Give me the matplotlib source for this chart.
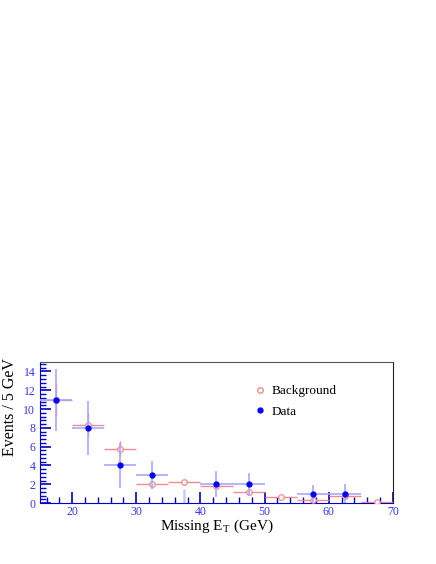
import matplotlib
matplotlib.use("Agg")
import matplotlib.pyplot as plt
from matplotlib.ticker import MultipleLocator
from matplotlib.lines import Line2D

# bins (centres) and values
centres = [17.5, 22.5, 27.5, 32.5, 37.5, 42.5, 47.5, 52.5, 57.5, 62.5, 67.5]
bkg = [11.0, 8.3, 5.8, 2.0, 2.2, 1.8, 1.2, 0.6, 0.3, 0.8, 0.1]
bkg_err = [1.7, 1.3, 0.8, 0.4, 0.2, 0.3, 0.3, 0.2, 0.2, 0.3, 0.1]
data = [11, 8, 4, 3, 0, 2, 2, 0, 1, 1, 0]
data_err = [3.3, 2.9, 2.4, 1.5, 1.5, 1.4, 1.2, 0, 0.9, 1.0, 0]
half_width = 2.5

bkg_col = '#f08080'
data_col = '#0000ff'
data_err_col = '#a8a8ff'
tick_col = '#0000cc'
lab_col = '#3333ff'

plt.rcParams['font.family'] = ['Liberation Serif', 'DejaVu Serif']
plt.rcParams['mathtext.fontset'] = 'stix'

fig = plt.figure(figsize=(4.36, 5.64), dpi=100)
ax = fig.add_axes([0.092, 0.108, 0.809, 0.25])

# background
ax.errorbar(centres, bkg, xerr=half_width, yerr=bkg_err, fmt='o', mfc='white',
            mec=bkg_col, ms=4, mew=0.9, ecolor=bkg_col, elinewidth=1.0,
            capsize=0, zorder=3, alpha=0.9)

# data (empty bins: error bar only)
dx = [c for c, v in zip(centres, data) if v > 0]
dy = [v for v in data if v > 0]
de = [e for v, e in zip(data, data_err) if v > 0]
ax.errorbar(dx, dy, xerr=half_width, yerr=de, fmt='o', color=data_col, ms=3.5,
            ecolor=data_err_col, elinewidth=1.2, capsize=0, zorder=4)
for c, v, e in zip(centres, data, data_err):
    if v == 0 and e > 0:
        ax.vlines(c, 0, e, color=data_err_col, lw=1.8, alpha=0.6, zorder=2)

ax.set_xlim(15, 70)
ax.set_ylim(0, 15)
ax.xaxis.set_major_locator(MultipleLocator(10))
ax.xaxis.set_minor_locator(MultipleLocator(2))
ax.yaxis.set_major_locator(MultipleLocator(2))
ax.yaxis.set_minor_locator(MultipleLocator(0.4))
ax.tick_params(which='both', direction='in', colors=tick_col, labelcolor=lab_col,
               labelsize=8.5, top=False, right=False)
ax.tick_params(axis='x', pad=2)
ax.tick_params(which='major', length=8, width=1.2)
ax.tick_params(which='minor', length=4, width=1.0)
ax.spines['left'].set_color(tick_col)
ax.spines['bottom'].set_color(tick_col)
ax.spines['top'].set_color('#555555')
ax.spines['right'].set_color('#222222')

ax.set_xlabel(r'Missing E$_\mathregular{T}$ (GeV)', fontsize=11)
ax.set_ylabel('Events / 5 GeV', fontsize=11.5)
ax.xaxis.set_label_coords(0.5, -0.105)
ax.yaxis.set_label_coords(-0.062, 0.68)

handles = [Line2D([], [], ls='none', marker='o', mfc='white', mec=bkg_col, ms=4, mew=0.9),
           Line2D([], [], ls='none', marker='o', color=data_col, ms=3.5)]
ax.legend(handles, ['Background', 'Data'], loc='upper left',
          bbox_to_anchor=(0.57, 0.92), frameon=False, fontsize=9.5,
          handletextpad=0.4, labelspacing=0.6, handlelength=1.0)

fig.savefig('out.png', dpi=100)
